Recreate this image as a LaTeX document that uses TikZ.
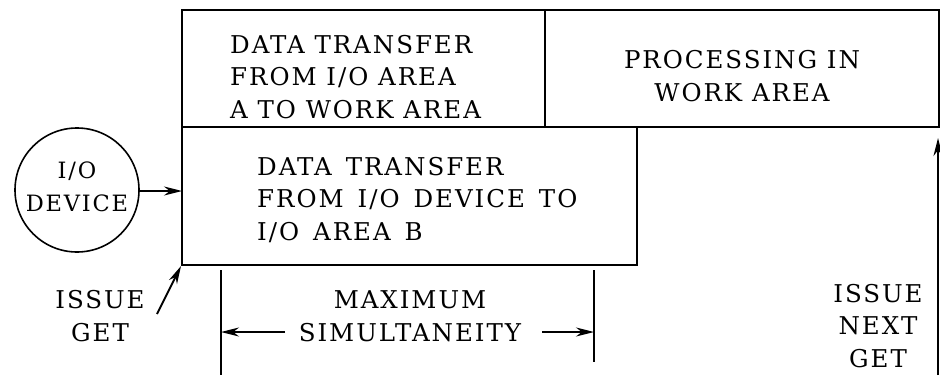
\documentclass[tikz,border=0pt]{standalone}
\usepackage{fontspec}
\setmainfont{DejaVu Serif}[LetterSpace=8]
\usetikzlibrary{arrows.meta}
\newcommand{\widewords}{\spaceskip=14pt\relax}
\begin{document}
\begin{tikzpicture}[x=1pt,y=-1pt,
  box/.style={draw,line width=2pt,inner sep=0pt},
  lbl/.style={font=\fontsize{24.5}{32.5}\selectfont,inner sep=0pt,align=left},
  clbl/.style={font=\fontsize{24.5}{32.5}\selectfont,inner sep=0pt,align=center},
  arr/.style={line width=1.8pt,-{Stealth[length=18pt,width=9pt]}},
  bar/.style={line width=1.8pt}]
\useasboundingbox (0,0) rectangle (940,375);
% timeline boxes
\node[box,minimum width=363pt,minimum height=117pt] (xfera) at (363.5,68.5) {};
\node[box,minimum width=394pt,minimum height=117pt] (proc) at (742,68.5) {};
\node[box,minimum width=455pt,minimum height=138pt] (xferb) at (409.5,196) {};
% device
\node[draw,circle,line width=1.6pt,minimum size=124pt,inner sep=0pt] (dev) at (77,190) {};
\node[clbl,font=\fontsize{22.5}{32.5}\selectfont] (devt) at (77,187) {I/O\\DEVICE};
% box texts
\node[lbl,anchor=west] (xferat) at (230,77) {DATA TRANSFER\\FROM I/O AREA\\A TO WORK AREA};
\node[clbl] (proct) at (742,76) {PROCESSING IN\\WORK AREA};
\node[lbl,anchor=west,font=\fontsize{24.5}{32.5}\selectfont\widewords] (xferbt) at (257,200) {DATA TRANSFER\\FROM I/O DEVICE TO\\I/O AREA B};
% labels below
\node[clbl] (issue) at (100,316) {ISSUE\\GET};
\node[clbl] (maxs) at (410,316) {MAXIMUM\\SIMULTANEITY};
\node[clbl] (issuen) at (878,326) {ISSUE\\NEXT\\GET};
% connectors
\coordinate (devin) at (182,191);
\draw[arr] (dev.east |- devin) -- (devin);
\coordinate (gettail) at (157,314);
\draw[arr] (gettail) -- (xferb.south west);
\coordinate (lt) at (221,270);
\coordinate (lb) at (221,375);
\coordinate (rt) at (594,270);
\coordinate (rb) at (594,362);
\draw[bar] (lt) -- (lb);
\draw[bar] (rt) -- (rb);
\coordinate (la) at (221,332);
\coordinate (ra) at (594,332);
\draw[arr] (285,332) -- (la);
\draw[arr] (542,332) -- (ra);
\coordinate (nb) at (938,375);
\coordinate (nt) at (938,138);
\draw[arr] (nb) -- (nt);
\end{tikzpicture}
\end{document}
